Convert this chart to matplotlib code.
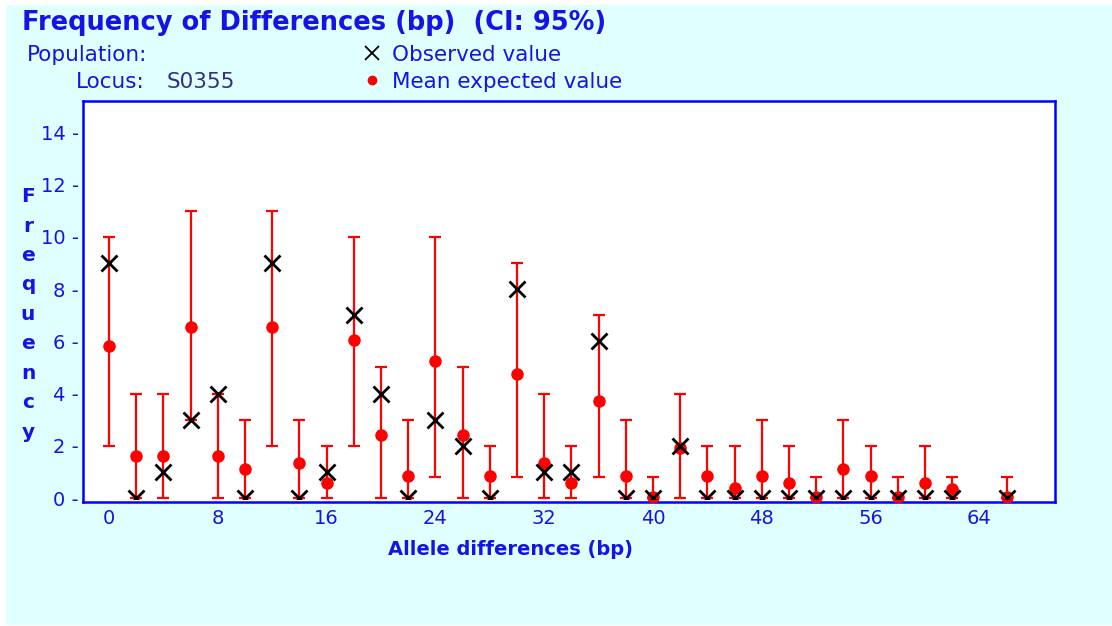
import matplotlib
matplotlib.use("Agg")
import matplotlib.pyplot as plt
from matplotlib.patches import Rectangle
from matplotlib.lines import Line2D

# ---- data ----
allele_diff = [0, 2, 4, 6, 8, 10, 12, 14, 16, 18, 20, 22, 24, 26, 28, 30, 32,
               34, 36, 38, 40, 42, 44, 46, 48, 50, 52, 54, 56, 58, 60, 62, 66]
observed = [9, 0, 1, 3, 4, 0, 9, 0, 1, 7, 4, 0, 3, 2, 0, 8, 1,
            1, 6, 0, 0, 2, 0, 0, 0, 0, 0, 0, 0, 0, 0, 0, 0]
mean_expected = [5.83, 1.6, 1.6, 6.57, 1.6, 1.11, 6.57, 1.36, 0.57, 6.06, 2.4, 0.83,
                 5.26, 2.42, 0.85, 4.74, 1.36, 0.57, 3.7, 0.85, 0.04, 1.9, 0.85,
                 0.38, 0.85, 0.57, 0.04, 1.12, 0.84, 0.05, 0.59, 0.34, 0.05]
ci_low = [2, 0, 0, 3, 0, 0, 2, 0, 0, 2, 0, 0, 0.8, 0, 0, 0.8, 0,
          0, 0.8, 0, 0, 0, 0, 0, 0, 0, 0, 0, 0, 0, 0, 0, 0]
ci_high = [10, 4, 4, 11, 4, 3, 11, 3, 2, 10, 5, 3, 10, 5, 2, 9, 4,
           2, 7, 3, 0.8, 4, 2, 2, 3, 2, 0.8, 3, 2, 0.8, 2, 0.8, 0.8]
x_ticks = [0, 8, 16, 24, 32, 40, 48, 56, 64]
y_ticks = [0, 2, 4, 6, 8, 10, 12, 14]

title = "Frequency of Differences (bp)  (CI: 95%)"
population_label = "Population:"
locus_label = "Locus:"
locus_name = "S0355"
obs_label = "Observed value"
mean_label = "Mean expected value"
x_label = "Allele differences (bp)"
y_label = "Frequency"

BLUE = "#1414E6"
SPINE = "#0000FF"
RED = "#FF0000"
CYAN = "#E0FFFF"

W, H = 1112, 626
fig = plt.figure(figsize=(W / 100, H / 100), dpi=100, facecolor="white")
fig.patches.append(Rectangle((6 / W, 1 / H), 1 - 6 / W, (625 - 5) / H,
                             transform=fig.transFigure, facecolor=CYAN,
                             edgecolor="none", zorder=-10))

ax = fig.add_axes([83 / W, (H - 502) / H, (1055 - 83) / W, (502 - 101) / H])
ax.set_facecolor("white")

XMIN, XMAX = -1.91, 69.56
YMIN, YMAX = -0.153, 15.21

yerr = [[m - lo for m, lo in zip(mean_expected, ci_low)],
        [hi - m for m, hi in zip(mean_expected, ci_high)]]
ax.errorbar(allele_diff, mean_expected, yerr=yerr, fmt="none", ecolor=RED,
            elinewidth=1.6, capsize=4.6, capthick=1.6, zorder=2)
ax.plot(allele_diff, mean_expected, linestyle="none", marker="o", markersize=8,
        color=RED, markeredgecolor=RED, zorder=3)
obs_line, = ax.plot(allele_diff, observed, linestyle="none", marker="x",
                    markersize=11.5, markeredgewidth=2.0, color="black", zorder=4)
# observed markers are cut at the zero line, as in the original program
obs_line.set_clip_path(Rectangle((XMIN, -0.03), XMAX - XMIN, YMAX + 0.03,
                                 transform=ax.transData))

ax.set_xlim(XMIN, XMAX)
ax.set_ylim(YMIN, YMAX)

ax.set_xticks(x_ticks)
ax.set_xticklabels([str(v) for v in x_ticks])
ax.set_yticks(y_ticks)
ax.set_yticklabels([f"{v} -" for v in y_ticks])
ax.tick_params(axis="both", length=0, labelcolor=BLUE, labelsize=14)
ax.tick_params(axis="x", pad=5)
ax.tick_params(axis="y", pad=3)

for s in ax.spines.values():
    s.set_color(SPINE)
    s.set_linewidth(1.8)

ax.set_xlabel(x_label, fontsize=14, fontweight="bold", color=BLUE)
ax.xaxis.set_label_coords((510 - 83) / 972, (502 - 540) / 401)

# vertical stacked y label
for i, ch in enumerate(y_label):
    fig.text(28 / W, 1 - (202 + i * 29.5) / H, ch, ha="center", va="baseline",
             fontsize=14.5, fontweight="bold", color=BLUE)

# header texts
fig.text(22 / W, 1 - 23 / H, title, ha="left", va="center", fontsize=18.5,
         fontweight="bold", color=BLUE)
fig.text(27 / W, 1 - 55 / H, population_label, ha="left", va="center",
         fontsize=15.5, color=BLUE)
fig.text(76 / W, 1 - 82 / H, locus_label, ha="left", va="center",
         fontsize=15.5, color=BLUE)
fig.text(167 / W, 1 - 82 / H, locus_name, ha="left", va="center",
         fontsize=15.5, color="#303088")

handles = [Line2D([], [], linestyle="none", marker="x", markersize=10,
                  markeredgewidth=1.3, color="black"),
           Line2D([], [], linestyle="none", marker="o", markersize=6, color=RED)]
fig.legend(handles, [obs_label, mean_label], loc="upper left",
           bbox_to_anchor=(361 / W, 1 - 45 / H), frameon=False, borderpad=0,
           borderaxespad=0, handlelength=1.0, handletextpad=0.45,
           labelspacing=0.31, fontsize=15.5, labelcolor=BLUE)

fig.savefig("out.png", dpi=100, facecolor="white")
